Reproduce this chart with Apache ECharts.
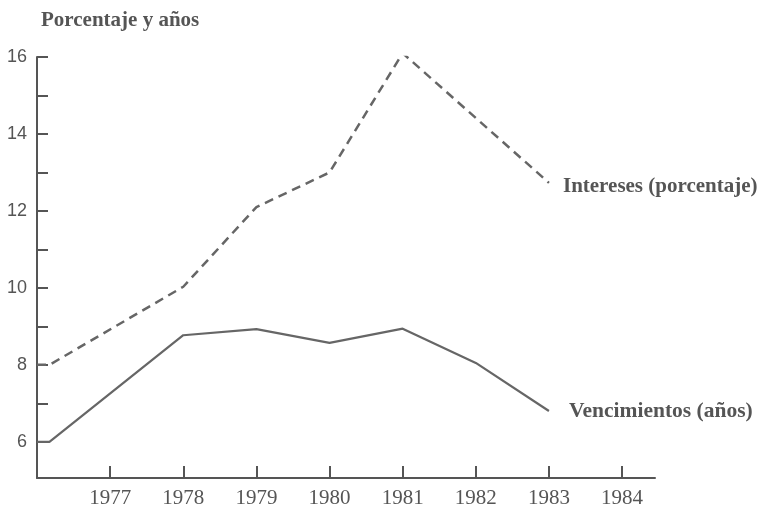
<!DOCTYPE html>
<html>
<head>
<meta charset="utf-8">
<script src="https://cdn.jsdelivr.net/npm/echarts@6/dist/echarts.min.js"></script>
<style>html,body{margin:0;padding:0;background:#fff;}#c{width:761px;height:511px;}</style>
</head>
<body>
<div id="c"></div>
<script>
const yAxisTitle = 'Porcentaje y años';
const interestName = 'Intereses (porcentaje)';
const maturityName = 'Vencimientos (años)';
const interestYears = [1976, 1976.17, 1978, 1979, 1980, 1981, 1983];
const interestValues = [8.0, 8.0, 10.03, 12.1, 13.0, 16.1, 12.73];
const maturityYears = [1976, 1976.17, 1978, 1979, 1980, 1981, 1982, 1983];
const maturityValues = [6.0, 6.0, 8.77, 8.93, 8.57, 8.94, 8.05, 6.8];
const xTickYears = [1977, 1978, 1979, 1980, 1981, 1982, 1983, 1984];
const yTickValues = [6, 7, 8, 9, 10, 11, 12, 13, 14, 15, 16];
const yLabelValues = [6, 8, 10, 12, 14, 16];

const ink = '#555';
const lineInk = '#666';
const serif = '"Liberation Serif", "DejaVu Serif", serif';

const chart = echarts.init(document.getElementById('c'));
chart.setOption({
  animation: false,
  backgroundColor: '#fff',
  title: {
    text: yAxisTitle, left: 36, top: 5,
    textStyle: { fontFamily: serif, fontSize: 21, fontWeight: 'bold', color: ink }
  },
  grid: { left: 37, right: 106, top: 57, bottom: 33, containLabel: false },
  xAxis: {
    type: 'value', min: 1976, max: 1984.45,
    splitLine: { show: false },
    axisLine: { lineStyle: { color: ink, width: 2 } },
    axisTick: { show: true, inside: true, length: 12, customValues: xTickYears, lineStyle: { color: ink, width: 2 } },
    axisLabel: { customValues: xTickYears, color: ink, fontFamily: serif, fontSize: 21, margin: 10, formatter: v => String(v) }
  },
  yAxis: {
    type: 'value', min: 5.06, max: 16,
    splitLine: { show: false },
    axisLine: { show: true, lineStyle: { color: ink, width: 2 } },
    axisTick: { show: true, inside: true, length: 11, customValues: yTickValues, lineStyle: { color: ink, width: 2 } },
    axisLabel: { customValues: yLabelValues, color: ink, fontFamily: '"Liberation Sans Narrow", "Liberation Sans", sans-serif', fontSize: 18, margin: 10 }
  },
  series: [
    {
      name: interestName, type: 'line', symbol: 'none',
      data: interestYears.map((y, i) => [y, interestValues[i]]),
      lineStyle: { color: lineInk, width: 2.5, type: [9, 6] },
      endLabel: { show: true, formatter: '{a}', distance: 14, color: ink, fontFamily: serif, fontSize: 21, fontWeight: 'bold', offset: [0, 4] }
    },
    {
      name: maturityName, type: 'line', symbol: 'none',
      data: maturityYears.map((y, i) => [y, maturityValues[i]]),
      lineStyle: { color: lineInk, width: 2.2 },
      endLabel: { show: true, formatter: '{a}', distance: 20, color: ink, fontFamily: serif, fontSize: 21.5, fontWeight: 'bold', offset: [0, 0] }
    }
  ]
});
</script>
</body>
</html>
